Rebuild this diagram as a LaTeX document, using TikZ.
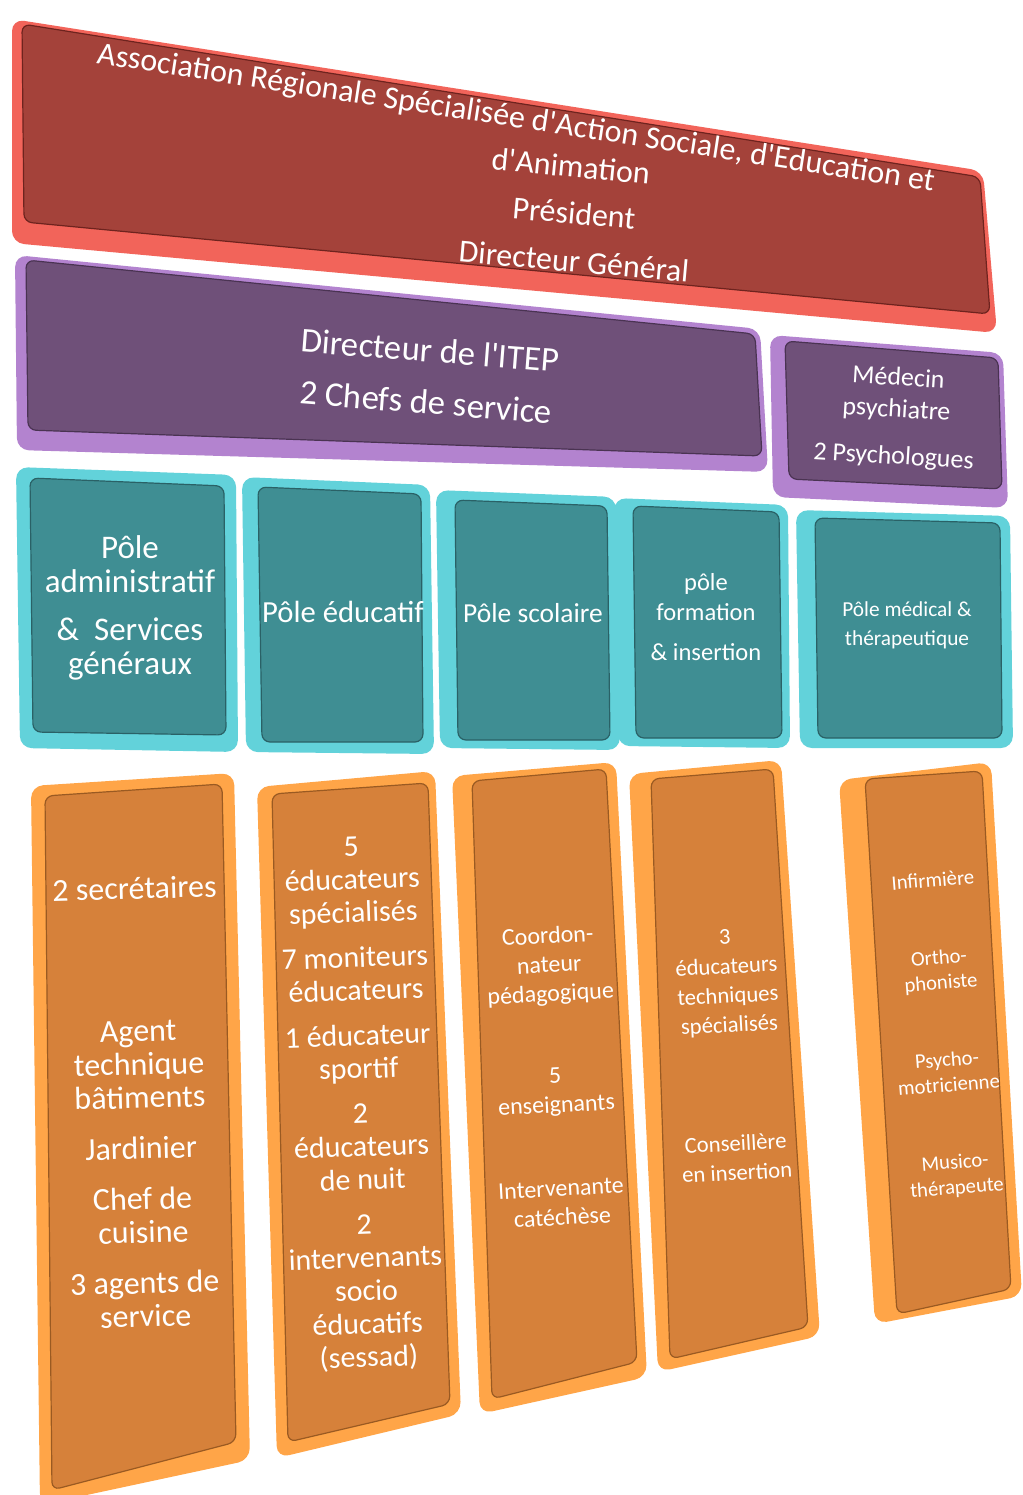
\documentclass[tikz,border=0pt]{standalone}
\usepackage{fontspec}
\setmainfont{Carlito}[Ligatures=TeXOff]
\definecolor{redface}{HTML}{A4423A}
\definecolor{redrim}{HTML}{F2645A}
\definecolor{rededge}{HTML}{6E231E}
\definecolor{purpface}{HTML}{6F5079}
\definecolor{purprim}{HTML}{B383CF}
\definecolor{purpedge}{HTML}{4A3352}
\definecolor{tealface}{HTML}{3F8E93}
\definecolor{tealrim}{HTML}{62D2DA}
\definecolor{tealedge}{HTML}{2A6166}
\definecolor{orface}{HTML}{D6813A}
\definecolor{orrim}{HTML}{FFA548}
\definecolor{oredge}{HTML}{9A5A22}
\tikzset{
  rim/.style={fill=#1, rounded corners=9pt},
  face/.style={fill=#1, rounded corners=6pt, line width=0.9pt},
  lbl/.style={text=white, align=center, inner sep=0pt},
}

\begin{document}
\begin{tikzpicture}[x=0.75pt, y=-0.75pt]
    \useasboundingbox (0,0) rectangle (1022,1495);
    \fill[white] (0,0) rectangle (1022,1495);

    % Association (top slab)
    \fill[rim=redrim] (12,19) -- (983,171) -- (997,333) -- (12,243) -- cycle;
    \fill[face=redface, draw=rededge] (22,24) -- (980,177) -- (990,314) -- (24,222) -- cycle;
    \node[lbl, rotate=-8.7, font=\fontsize{24}{28}\selectfont] (asso) at (516,119)
        {Association Régionale Spécialisée d'Action Sociale, d'Education et};
    \node[lbl, rotate=-5.5, font=\fontsize{24}{28}\selectfont] (anim) at (571,166) {d'Animation};
    \node[lbl, rotate=-5, font=\fontsize{24}{28}\selectfont] (pres) at (574,213) {Président};
    \node[lbl, rotate=-5, font=\fontsize{24}{28}\selectfont] (dg) at (574,261) {Directeur Général};

    % Direction
    \fill[rim=purprim] (15,255) -- (760,329) -- (768,472) -- (17,450) -- cycle;
    \fill[face=purpface, draw=purpedge] (26,260) -- (755,334) -- (762,456) -- (28,430) -- cycle;
    \node[lbl, rotate=-4.5, font=\fontsize{26}{39}\selectfont] (itep) at (428,376)
        {Directeur de l'ITEP\\2 Chefs de service};

    \fill[rim=purprim] (770,335) -- (1003,353) -- (1008,508) -- (773,497) -- cycle;
    \fill[face=purpface, draw=purpedge] (785,341) -- (998,358) -- (1002,489) -- (789,479) -- cycle;
    \node[lbl, rotate=-3.5, font=\fontsize{19.5}{24}\selectfont] (medpsy) at (896,418)
        {Médecin\\psychiatre\\[11pt]2 Psychologues};

    % Poles
    \fill[rim=tealrim] (16,467) -- (236,475) -- (238,752) -- (20,748) -- cycle;
    \fill[face=tealface, draw=tealedge] (30,478) -- (224,486) -- (226,735) -- (33,732) -- cycle;
    \node[lbl, font=\fontsize{24.75}{25.5}\selectfont] (admin) at (130,608)
        {Pôle\\administratif\\[11pt]\&\ \ Services\\généraux};

    \fill[rim=tealrim] (242,477) -- (430,485) -- (434,754) -- (246,752) -- cycle;
    \fill[face=tealface, draw=tealedge] (258,487) -- (421,494) -- (423,742) -- (262,742) -- cycle;
    \node[lbl, font=\fontsize{23}{27}\selectfont] (educ) at (343,612) {Pôle éducatif};

    \fill[rim=tealrim] (436,490) -- (616,497) -- (620,750) -- (440,748) -- cycle;
    \fill[face=tealface, draw=tealedge] (455,500) -- (607,506) -- (610,740) -- (458,740) -- cycle;
    \node[lbl, font=\fontsize{20.6}{25}\selectfont] (scol) at (533,613) {Pôle scolaire};

    \fill[rim=tealrim] (614,498) -- (788,505) -- (790,748) -- (618,746) -- cycle;
    \fill[face=tealface, draw=tealedge] (633,506) -- (779,512) -- (782,738) -- (636,738) -- cycle;
    \node[lbl, font=\fontsize{18.4}{22.5}\selectfont] (form) at (706,617)
        {pôle\\formation\\[8pt]\& insertion};

    \fill[rim=tealrim] (796,510) -- (1010,516) -- (1013,748) -- (800,748) -- cycle;
    \fill[face=tealface, draw=tealedge] (815,518) -- (1000,523) -- (1002,738) -- (818,738) -- cycle;
    \node[lbl, font=\fontsize{16}{21.75}\selectfont] (med) at (907,625)
        {Pôle médical \&\\thérapeutique};

    % Staff columns
    \fill[rim=orrim] (31,786) -- (234,773) -- (250,1460) -- (40,1505) -- cycle;
    \fill[face=orface, draw=oredge] (45,796) -- (222,784) -- (236,1442) -- (52,1490) -- cycle;
    \node[lbl, rotate=1.5, font=\fontsize{24}{25}\selectfont] (staffadmin) at (140,1102)
        {2 secrétaires\\[82pt]Agent\\technique\\bâtiments\\[13pt]Jardinier\\[13pt]Chef de\\cuisine\\[13pt]3 agents de\\service};

    \fill[rim=orrim] (257,787) -- (435,771) -- (461,1414) -- (277,1458) -- cycle;
    \fill[face=orface, draw=oredge] (272,794) -- (428,783) -- (450,1404) -- (288,1442) -- cycle;
    \node[lbl, rotate=2, font=\fontsize{22.5}{24.8}\selectfont] (staffeduc) at (360,1104)
        {5\\éducateurs\\spécialisés\\[9pt]7 moniteurs\\éducateurs\\[9pt]1 éducateur\\sportif\\[9pt]2\\éducateurs\\de nuit\\[9pt]2\\intervenants\\socio\\éducatifs\\(sessad)};

    \fill[rim=orrim] (452,776) -- (616,762) -- (647,1377) -- (480,1414) -- cycle;
    \fill[face=orface, draw=oredge] (472,781) -- (606,769) -- (637,1362) -- (492,1399) -- cycle;
    \node[lbl, rotate=3, font=\fontsize{18}{21.75}\selectfont] (staffscol) at (555,1076)
        {Coordon-\\nateur\\pédagogique\\[40pt]5\\enseignants\\[41pt]Intervenante\\catéchèse};

    \fill[rim=orrim] (629,774) -- (781,760) -- (820,1336) -- (658,1372) -- cycle;
    \fill[face=orface, draw=oredge] (651,779) -- (773,769) -- (808,1327) -- (670,1359) -- cycle;
    \node[lbl, rotate=3, font=\fontsize{17}{22}\selectfont] (stafform) at (731,1055)
        {3\\éducateurs\\techniques\\spécialisés\\[67pt]Conseillère\\en insertion};

    \fill[rim=orrim] (839,780) -- (991,762) -- (1022,1296) -- (875,1324) -- cycle;
    \fill[face=orface, draw=oredge] (865,779) -- (982,771) -- (1011,1289) -- (897,1314) -- cycle;
    \node[lbl, rotate=4.5, font=\fontsize{15.5}{19}\selectfont] (staffmed) at (945,1035)
        {Infirmière\\[39pt]Ortho-\\phoniste\\[39pt]Psycho-\\motricienne\\[39pt]Musico-\\thérapeute};
\end{tikzpicture}
\end{document}
